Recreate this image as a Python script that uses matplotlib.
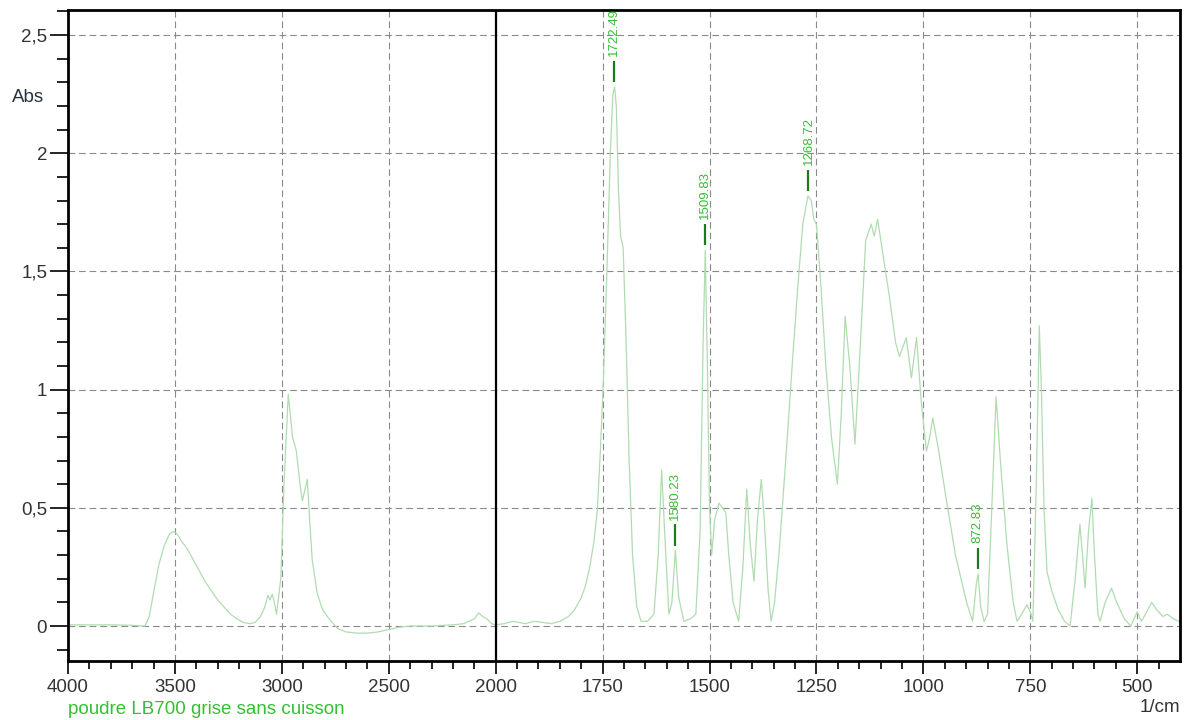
# FTIR spectrum - poudre LB700 grise sans cuisson

import numpy as np
import matplotlib.pyplot as plt

plt.rcParams['font.family'] = ['Liberation Sans', 'DejaVu Sans']

# spectrum (wavenumber in 1/cm, absorbance)
wavenumber = [4000, 3800, 3700, 3640, 3620, 3600, 3575, 3550, 3525, 3505, 3490, 3470, 3445,
              3420, 3390, 3360, 3330, 3300, 3270, 3240, 3210, 3180, 3150, 3125, 3100, 3080,
              3065, 3055, 3045, 3035, 3025, 3005, 2990, 2970, 2950, 2932, 2915, 2904, 2881,
              2870, 2858, 2835, 2810, 2779, 2740, 2700, 2650, 2600, 2550, 2500, 2450, 2400,
              2300, 2200, 2150, 2100, 2080, 2060, 2040, 2020,
              2000, 1980, 1960, 1945, 1930, 1910, 1890, 1870, 1850, 1830, 1815, 1800, 1790,
              1780, 1770, 1762, 1755, 1748, 1740, 1732, 1726, 1722, 1718, 1713, 1708, 1702,
              1695, 1688, 1680, 1670, 1660, 1645, 1630, 1620, 1612, 1605, 1595, 1588, 1580,
              1572, 1560, 1545, 1532, 1522, 1515, 1510, 1505, 1500, 1495, 1488, 1478, 1470,
              1462, 1455, 1445, 1432, 1422, 1413, 1405, 1396, 1388, 1379, 1372, 1363, 1356,
              1348, 1337, 1320, 1305, 1293, 1282, 1270, 1262, 1256, 1250, 1240, 1228, 1215,
              1201, 1192, 1183, 1172, 1160, 1150, 1135, 1122, 1115, 1107, 1096, 1080, 1065,
              1056, 1040, 1028, 1016, 1005, 993, 985, 978, 965, 946, 925, 899, 885, 876, 872,
              866, 858, 850, 840, 830, 820, 805, 790, 781, 770, 758, 750, 744, 736, 729, 724,
              718, 711, 700, 685, 670, 657, 645, 634, 628, 622, 614, 606, 600, 592, 587, 575,
              560, 548, 530, 515, 500, 490, 478, 466, 455, 440, 430, 415, 402]
absorbance = [0.005, 0.005, 0.003, 0.0, 0.04, 0.14, 0.26, 0.34, 0.39, 0.40, 0.39, 0.36, 0.33,
              0.29, 0.24, 0.19, 0.15, 0.11, 0.08, 0.05, 0.03, 0.015, 0.01, 0.015, 0.04, 0.08,
              0.13, 0.11, 0.135, 0.10, 0.05, 0.2, 0.6, 0.98, 0.80, 0.74, 0.60, 0.53, 0.62,
              0.45, 0.28, 0.14, 0.07, 0.03, -0.01, -0.025, -0.03, -0.03, -0.025, -0.015, -0.005, 0.0,
              0.0, 0.005, 0.01, 0.03, 0.055, 0.04, 0.03, 0.01,
              0.005, 0.01, 0.02, 0.015, 0.01, 0.02, 0.015, 0.01, 0.02, 0.04, 0.07, 0.12, 0.17,
              0.25, 0.36, 0.5, 0.75, 1.05, 1.5, 2.0, 2.25, 2.28, 2.2, 1.85, 1.65, 1.6,
              1.2, 0.7, 0.3, 0.08, 0.02, 0.02, 0.05, 0.3, 0.66, 0.4, 0.05, 0.1, 0.32,
              0.12, 0.02, 0.03, 0.05, 0.4, 1.2, 1.59, 1.1, 0.5, 0.3, 0.45, 0.52, 0.5,
              0.48, 0.3, 0.1, 0.02, 0.25, 0.58, 0.35, 0.19, 0.45, 0.62, 0.45, 0.15, 0.02,
              0.1, 0.32, 0.75, 1.15, 1.45, 1.7, 1.82, 1.8, 1.72, 1.7, 1.45, 1.1, 0.8,
              0.6, 0.9, 1.31, 1.1, 0.77, 1.1, 1.63, 1.70, 1.65, 1.72, 1.59, 1.4, 1.2,
              1.14, 1.22, 1.05, 1.22, 0.95, 0.74, 0.8, 0.88, 0.75, 0.53, 0.3, 0.1, 0.02, 0.18, 0.22,
              0.08, 0.02, 0.05, 0.5, 0.97, 0.7, 0.35, 0.1, 0.02, 0.05, 0.09, 0.06, 0.02, 0.6, 1.27, 1.0,
              0.5, 0.23, 0.15, 0.07, 0.02, 0.0, 0.2, 0.43, 0.3, 0.16, 0.4, 0.54, 0.3, 0.05, 0.02, 0.1,
              0.16, 0.1, 0.03, 0.0, 0.06, 0.02, 0.06, 0.1, 0.07, 0.04, 0.05, 0.03, 0.02]

# picked peaks
peak_wn = [1722.49, 1580.23, 1509.83, 1268.72, 872.83]
peak_ab = [2.28, 0.32, 1.59, 1.82, 0.22]

x_major = [4000, 3500, 3000, 2500, 2000, 1750, 1500, 1250, 1000, 750, 500]
y_major = [0, 0.5, 1, 1.5, 2, 2.5]
y_labels = ['0', '0,5', '1', '1,5', '2', '2,5']
sample_name = 'poudre LB700 grise sans cuisson'


# x axis is compressed by 2 above 2000 1/cm
def fwd(w):
    w = np.asarray(w, dtype=float)
    return np.where(w >= 2000, 2000 + (w - 2000) / 2, w)


def inv(t):
    t = np.asarray(t, dtype=float)
    return np.where(t >= 2000, 2000 + (t - 2000) * 2, t)


fig = plt.figure(figsize=(11.88, 7.2), dpi=100)
ax = fig.add_axes([68/1188, 1 - 661/720, 1112/1188, 651/720])
ax.set_xscale('function', functions=(fwd, inv))

ax.plot(wavenumber, absorbance, color='#b0dcb0', lw=0.9)

for w, a in zip(peak_wn, peak_ab):
    ax.vlines(w, a + 0.02, a + 0.11, color='#1e7a1e', lw=1.6)
    ax.text(w, a + 0.13, '%.2f' % w, rotation=90, ha='center', va='bottom',
            fontsize=9.5, color='#33c033', clip_on=True)

ax.axvline(2000, color='black', lw=1.6)

ax.set_xlim(4000, 400)
ax.set_ylim(-0.148, 2.606)

minor_x = [w for w in range(2100, 4000, 100) if w % 500 != 0] + \
          [w for w in range(450, 2000, 50) if w % 250 != 0]
ax.set_xticks(x_major, labels=[str(w) for w in x_major])
ax.set_xticks(minor_x, minor=True)
ax.set_yticks(y_major, labels=y_labels)
ax.set_yticks(np.arange(-0.1, 2.61, 0.1), minor=True)

ax.tick_params(axis='x', which='major', direction='out', length=9.5, width=1.2, pad=3.5,
               labelsize=13.5, labelcolor='#333333')
ax.tick_params(axis='x', which='minor', direction='out', length=5.5, width=1.2)
ax.tick_params(axis='y', which='major', direction='out', length=13, width=1.2, pad=2,
               labelsize=13.5, labelcolor='#333333')
ax.tick_params(axis='y', which='minor', direction='out', length=8, width=1.2)

for s in ax.spines.values():
    s.set_linewidth(2)

ax.grid(True, which='major', color='#8a8a8a', lw=0.8, linestyle=(0, (6, 3.5)))

fig.text(12/1188, 1 - 97/720, 'Abs', fontsize=13.5, color='#2a3040', va='center', ha='left')
fig.text(1180/1188, 1 - 708/720, '1/cm', fontsize=13.5, color='#333333', va='center', ha='right')
fig.text(68/1188, 1 - 709/720, sample_name, fontsize=13.5, color='#33c033', va='center', ha='left')

plt.savefig('out.png', dpi=100)
